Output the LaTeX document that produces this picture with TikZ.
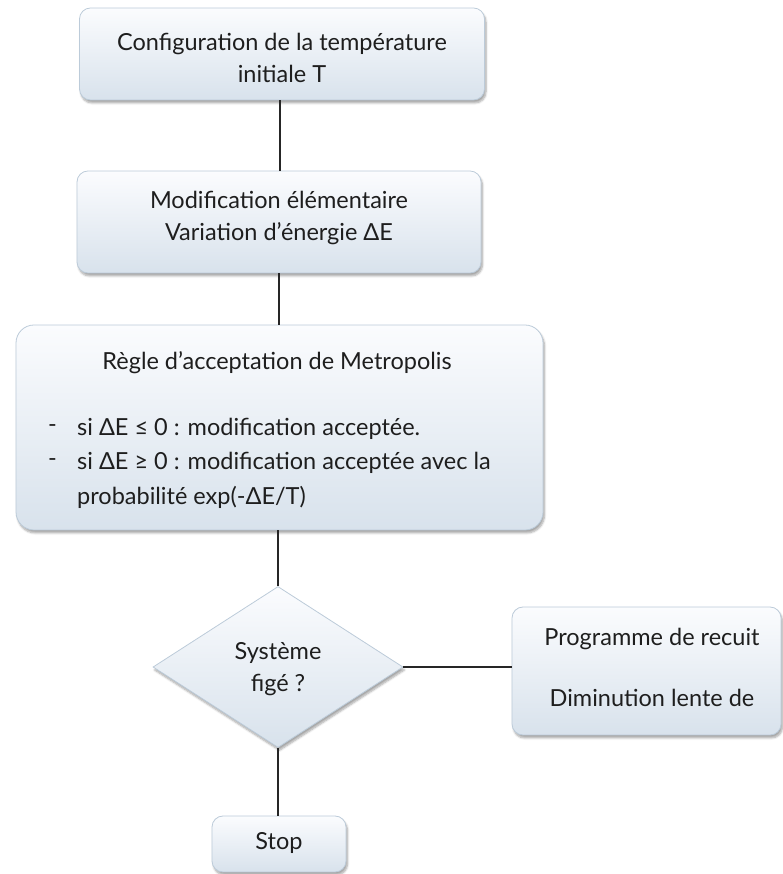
\documentclass[tikz,border=0pt]{standalone}
\usepackage{fontspec}
\setmainfont{Lato}
\usetikzlibrary{shapes.geometric,shadows.blur}
\definecolor{boxline}{HTML}{BCCBD9}
\definecolor{boxtop}{HTML}{FBFCFE}
\definecolor{boxbot}{HTML}{D8E2EC}
\definecolor{ink}{HTML}{1E1E1E}
\tikzset{
  flowbox/.style={rectangle, rounded corners=11pt, draw=boxline, line width=0.8pt,
    top color=boxtop, bottom color=boxbot, inner sep=0pt,
    blur shadow={shadow xshift=1.5pt, shadow yshift=-3pt, shadow blur steps=6,
      shadow blur extra rounding=2pt, shadow opacity=35}},
  flowdiamond/.style={diamond, draw=boxline, line width=0.8pt,
    top color=boxtop, bottom color=boxbot, inner sep=0pt,
    blur shadow={shadow xshift=1.5pt, shadow yshift=-3pt, shadow blur steps=6, shadow opacity=35}},
  lbl/.style={text=ink, font=\fontsize{23.5}{32}\selectfont, inner sep=0pt},
  link/.style={draw=black!85, line width=1.2pt}
}
\begin{document}
\begin{tikzpicture}[x=1pt,y=1pt]
\useasboundingbox (0,0) rectangle (782,874);

% start box
\node[flowbox, minimum width=405pt, minimum height=92pt] (init) at (282,820) {};
\node[lbl, align=center] (initt) at (282,816) {Configuration de la température\\initiale T};

% elementary move
\node[flowbox, minimum width=404pt, minimum height=102pt] (move) at (279,652) {};
\node[lbl, align=center] (movet) at (279,656) {Modification élémentaire\\Variation d'énergie ΔE};

% Metropolis rule
\node[flowbox, rounded corners=18pt, minimum width=527pt, minimum height=205pt] (rule) at (279.5,446.5) {};
\node[lbl] (rulet) at (277,511) {Règle d'acceptation de Metropolis};
\node[lbl, anchor=west] (dash1) at (48,445) {-};
\node[lbl, anchor=west] (dash2) at (48,411) {-};
\node[lbl, anchor=west] (item1) at (77,445) {si ΔE ≤ 0 : modification acceptée.};
\node[lbl, anchor=west] (item2) at (77,411) {si ΔE ≥ 0 : modification acceptée avec la};
\node[lbl, anchor=west] (item3) at (77,377) {probabilité exp(-ΔE/T)};

% decision
\node[flowdiamond, minimum width=250pt, minimum height=161pt] (frozen) at (278,207) {};
\node[lbl, align=center] (frozent) at (278,205) {Système\\figé ?};

% annealing schedule
\node[flowbox, minimum width=269pt, minimum height=128pt] (sched) at (646.5,203) {};
\node[lbl] (sched1) at (652,235) {Programme de recuit};
\node[lbl] (sched2) at (652,176) {Diminution lente de};

% stop
\node[flowbox, minimum width=134pt, minimum height=56pt] (stop) at (279,30) {};
\node[lbl] (stopt) at (279,31) {Stop};

% connectors
\draw[link] (init.south -| 280,0) -- (move.north -| 280,0);
\draw[link] (move.south -| 279,0) -- (rule.north -| 279,0);
\draw[link] (rule.south -| 278,0) -- (frozen.north);
\draw[link] (frozen.east) -- (frozen.east -| sched.west);
\draw[link] (frozen.south) -- (stop.north -| frozen.south);
\end{tikzpicture}
\end{document}
